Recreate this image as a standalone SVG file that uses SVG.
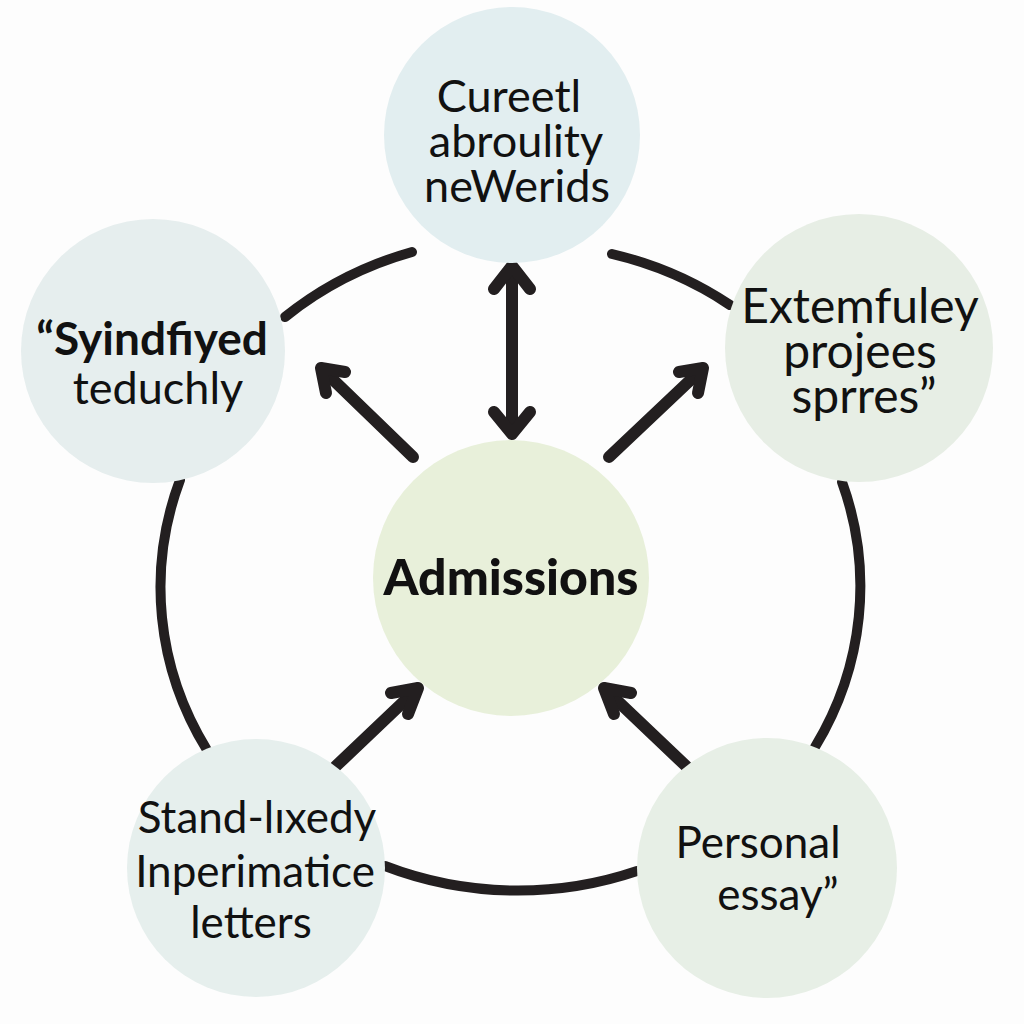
<svg xmlns="http://www.w3.org/2000/svg" width="1024" height="1024" viewBox="0 0 1024 1024">
  <style>
    .ring { fill: none; stroke: #231f20; stroke-width: 10; stroke-linecap: round; }
    .arr { fill: none; stroke: #231f20; stroke-width: 12; stroke-linecap: round; stroke-linejoin: round; }
    .lbl { font-family: Lato, "Open Sans", "Liberation Sans", sans-serif; font-size: 44px; fill: #111; text-anchor: middle; }
    .s45 { font-size: 45px; }
    .s46b { font-size: 46px; font-weight: bold; }
    .s48 { font-size: 48px; }
    .ctr { font-size: 50px; font-weight: 900; }
  </style>
  <rect width="1024" height="1024" fill="#fdfdfd"/>

  <g id="connectors">
    <path class="ring" d="M 612 254 A 349 326 0 0 1 730 305"/>
    <path class="ring" d="M 842 482 A 349 326 0 0 1 815 747"/>
    <path class="ring" d="M 637 871 A 349 326 0 0 1 385 866"/>
    <path class="ring" d="M 207 750 A 349 326 0 0 1 180 480"/>
    <path class="ring" d="M 285 317 A 349 326 0 0 1 412 252"/>

    <line class="arr" x1="512" y1="268" x2="512" y2="432"/>
    <polyline class="arr" points="494,289 512,266 530,289"/>
    <polyline class="arr" points="494,412 512,434 530,412"/>

    <line class="arr" x1="413" y1="457" x2="323" y2="370"/>
    <polyline class="arr" points="345,372 321,368 326,393"/>

    <line class="arr" x1="609" y1="457" x2="701" y2="370"/>
    <polyline class="arr" points="679,372 703,368 698,393"/>

    <line class="arr" x1="336" y1="766" x2="416" y2="690"/>
    <polyline class="arr" points="391,693 418,688 408,714"/>

    <line class="arr" x1="686" y1="766" x2="606" y2="690"/>
    <polyline class="arr" points="631,693 604,688 614,714"/>
  </g>

  <g id="node-top">
    <circle cx="512" cy="135" r="128" fill="#e2eef0"/>
    <text class="lbl s45" x="509" y="112">Cureetl</text>
    <text class="lbl s45" x="516" y="157">abroulity</text>
    <text class="lbl s45" x="517" y="202">neWerids</text>
  </g>

  <g id="node-left">
    <circle cx="153" cy="351" r="132" fill="#e6eeee"/>
    <text class="lbl s46b" x="152" y="355">“Syindfiyed</text>
    <text class="lbl s45" x="158" y="404">teduchly</text>
  </g>

  <g id="node-right">
    <circle cx="859" cy="348" r="134" fill="#e7eee5"/>
    <text class="lbl s48" x="860" y="323">Extemfuley</text>
    <text class="lbl s48" x="860" y="368">projees</text>
    <text class="lbl s48" x="864" y="413">sprres”</text>
  </g>

  <g id="node-center">
    <circle cx="511" cy="578" r="138" fill="#e8f0da"/>
    <text class="lbl ctr" x="511" y="595">Admissions</text>
  </g>

  <g id="node-bottom-left">
    <circle cx="256" cy="868" r="129" fill="#e6efed"/>
    <text class="lbl" x="257" y="833">Stand-lıxedy</text>
    <text class="lbl" x="255" y="887">Inperimatice</text>
    <text class="lbl" x="251" y="938">letters</text>
  </g>

  <g id="node-bottom-right">
    <circle cx="767" cy="868" r="130" fill="#e7efe6"/>
    <text class="lbl" x="758" y="858">Personal</text>
    <text class="lbl" x="778" y="910">essay”</text>
  </g>
</svg>
